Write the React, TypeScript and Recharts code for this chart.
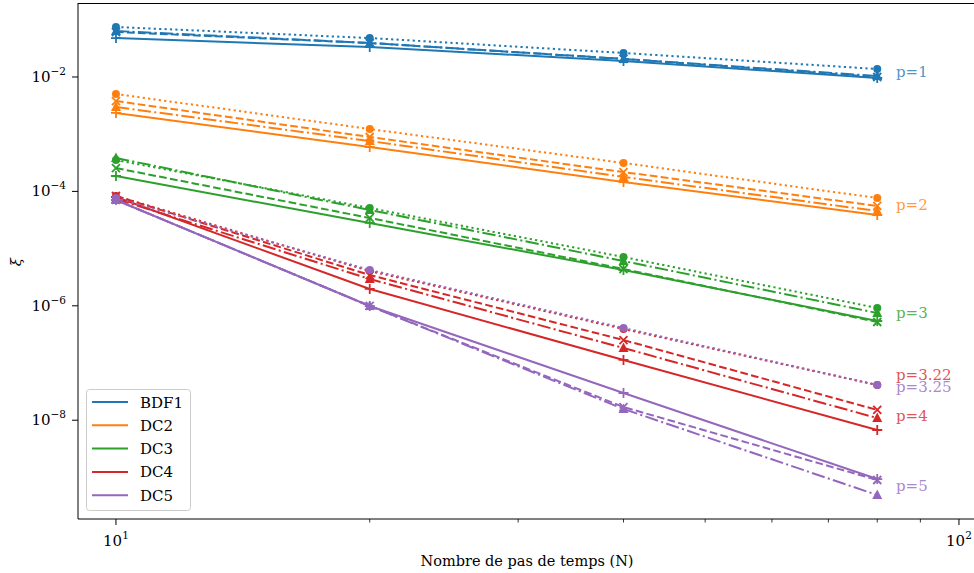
import { LineChart, Line, XAxis, YAxis } from 'recharts';

const N = [10, 20, 40, 80];

// erreur ξ pour chaque schéma, quatre variantes par schéma
const bdf1Solid = [4.8e-2, 3.34e-2, 1.91e-2, 9.6e-3];
const bdf1Dashed = [6.12e-2, 3.93e-2, 2.07e-2, 1.0e-2];
const bdf1DashDot = [6.37e-2, 3.93e-2, 2.07e-2, 1.04e-2];
const bdf1Dotted = [7.48e-2, 4.8e-2, 2.63e-2, 1.38e-2];

const dc2Solid = [2.35e-3, 5.97e-4, 1.46e-4, 3.86e-5];
const dc2Dashed = [3.8e-3, 8.93e-4, 2.18e-4, 5.56e-5];
const dc2DashDot = [2.99e-3, 7.6e-4, 1.79e-4, 4.54e-5];
const dc2Dotted = [5.04e-3, 1.23e-3, 3.14e-4, 7.67e-5];

const dc3Solid = [1.86e-4, 2.81e-5, 4.23e-6, 5.42e-7];
const dc3Dashed = [2.56e-4, 3.43e-5, 4.4e-6, 5.21e-7];
const dc3DashDot = [3.84e-4, 4.73e-5, 6.07e-6, 7.48e-7];
const dc3Dotted = [3.54e-4, 5.13e-5, 7.13e-6, 9.16e-7];

const dc4Solid = [7.98e-5, 1.97e-6, 1.13e-7, 6.74e-9];
const dc4Dashed = [8.31e-5, 3.45e-6, 2.52e-7, 1.51e-8];
const dc4DashDot = [7.36e-5, 2.94e-6, 1.83e-7, 1.09e-8];
const dc4Dotted = [8.31e-5, 4.06e-6, 3.93e-7, 4.12e-8];

const dc5Solid = [7.08e-5, 9.93e-7, 2.99e-8, 9.37e-10];
const dc5Dashed = [7.08e-5, 9.93e-7, 1.7e-8, 9.01e-10];
const dc5DashDot = [7.08e-5, 9.93e-7, 1.57e-8, 4.92e-10];
const dc5Dotted = [7.67e-5, 4.23e-6, 4.09e-7, 4.12e-8];

const methods = ['BDF1', 'DC2', 'DC3', 'DC4', 'DC5'];
const slopes = ['p=1', 'p=2', 'p=3', 'p=3.22', 'p=3.25', 'p=4', 'p=5'];
const xTicks = [10, 20, 30, 40, 50, 60, 70, 80, 90, 100];
const yTicks = [1e-8, 1e-6, 1e-4, 1e-2];

const COLORS = ['#1f77b4', '#ff7f0e', '#2ca02c', '#d62728', '#9467bd'];
const serif = { fontFamily: "'DejaVu Serif', 'Liberation Serif', serif" };

const STYLES = [
  { name: 'solid', dash: undefined, marker: '+' },
  { name: 'dashed', dash: '7.7 3.3', marker: 'x' },
  { name: 'dashdot', dash: '13.3 3.3 2.1 3.3', marker: '^' },
  { name: 'dotted', dash: '2.2 3.2', marker: 'o' },
];

const values = [
  [bdf1Solid, bdf1Dashed, bdf1DashDot, bdf1Dotted],
  [dc2Solid, dc2Dashed, dc2DashDot, dc2Dotted],
  [dc3Solid, dc3Dashed, dc3DashDot, dc3Dotted],
  [dc4Solid, dc4Dashed, dc4DashDot, dc4Dotted],
  [dc5Solid, dc5Dashed, dc5DashDot, dc5Dotted],
];

const series = values.flatMap((group, m) =>
  group.map((vals, s) => ({
    key: `${methods[m]}_${STYLES[s].name}`,
    vals,
    color: COLORS[m],
    dash: STYLES[s].dash,
    marker: STYLES[s].marker,
  }))
);

const rows = N.map((n, i) => {
  const r: Record<string, number> = { N: n };
  series.forEach((s) => {
    r[s.key] = s.vals[i];
  });
  return r;
});

function Marker({ cx, cy, kind, color }: any) {
  if (cx == null || cy == null) return null;
  if (kind === 'o') return <circle cx={cx} cy={cy} r={4} fill={color} />;
  if (kind === '^')
    return (
      <path
        d={`M${cx},${cy - 5.5} L${cx + 5},${cy + 4} L${cx - 5},${cy + 4} Z`}
        fill={color}
      />
    );
  const d = kind === 'x' ? 4 : 5;
  const path =
    kind === 'x'
      ? `M${cx - d},${cy - d} L${cx + d},${cy + d} M${cx - d},${cy + d} L${cx + d},${cy - d}`
      : `M${cx - d},${cy} L${cx + d},${cy} M${cx},${cy - d} L${cx},${cy + d}`;
  return <path d={path} stroke={color} strokeWidth={1.8} fill="none" />;
}

function XTick({ x, y, payload }: any) {
  const v = payload.value;
  const major = v === 10 || v === 100;
  return (
    <g>
      <line x1={x} x2={x} y1={y} y2={y + (major ? 6 : 3.5)} stroke="#000" strokeWidth={major ? 1 : 0.8} />
      {major && (
        <text x={x} y={y + 27} textAnchor="middle" style={serif} fontSize={15} fill="#000">
          10
          <tspan dy={-7} fontSize={10.5}>
            {Math.round(Math.log10(v))}
          </tspan>
        </text>
      )}
    </g>
  );
}

function YTick({ x, y, payload }: any) {
  const e = Math.round(-Math.log10(payload.value));
  return (
    <g>
      <line x1={x - 6} x2={x} y1={y} y2={y} stroke="#000" strokeWidth={1} />
      <text x={x - 12} y={y + 5} textAnchor="end" style={serif} fontSize={15} fill="#000">
        10
        <tspan dy={-7} fontSize={10.5}>
          −{e}
        </tspan>
      </text>
    </g>
  );
}

// position (pixels) des annotations de pente à droite des courbes
const slopeLabelPos = [
  { y: 77, c: 0 },
  { y: 210, c: 1 },
  { y: 318, c: 2 },
  { y: 380, c: 3 },
  { y: 392, c: 4 },
  { y: 421, c: 3 },
  { y: 491, c: 4 },
];

export default function App() {
  return (
    <div style={{ position: 'absolute', left: 0, top: 0, width: 974, height: 573, background: '#fff' }}>
      <LineChart width={974} height={573} data={rows} margin={{ top: 3, right: 0, bottom: 0, left: 0 }}>
        <XAxis
          dataKey="N"
          type="number"
          scale="log"
          domain={[9.015, 104.2]}
          allowDataOverflow
          ticks={xTicks}
          interval={0}
          tick={<XTick />}
          tickLine={false}
          tickSize={0}
          tickMargin={0}
          height={54}
          axisLine={{ stroke: '#000', strokeWidth: 1 }}
        />
        <YAxis
          type="number"
          scale="log"
          domain={[1.875e-10, 0.1966]}
          allowDataOverflow
          ticks={yTicks}
          interval={0}
          tick={<YTick />}
          tickLine={false}
          tickSize={0}
          tickMargin={0}
          width={78}
          axisLine={{ stroke: '#000', strokeWidth: 1 }}
        />
        {series.map((s) => (
          <Line
            key={s.key}
            dataKey={s.key}
            type="linear"
            stroke={s.color}
            strokeWidth={2}
            strokeDasharray={s.dash}
            isAnimationActive={false}
            activeDot={false}
            dot={(p: any) => (
              <Marker key={`${s.key}-${p.index}`} cx={p.cx} cy={p.cy} kind={s.marker} color={s.color} />
            )}
          />
        ))}
      </LineChart>
      <svg
        width={974}
        height={573}
        style={{ position: 'absolute', left: 0, top: 0, pointerEvents: 'none' }}
      >
        <line x1={78} x2={974} y1={3.5} y2={3.5} stroke="#000" strokeWidth={1} />
        {slopes.map((t, i) => (
          <text
            key={t}
            x={896}
            y={slopeLabelPos[i].y}
            style={serif}
            fontSize={15}
            fill={COLORS[slopeLabelPos[i].c]}
            fillOpacity={0.8}
          >
            {t}
          </text>
        ))}
        <text x={527} y={566} textAnchor="middle" style={serif} fontSize={14.5} fill="#000">
          Nombre de pas de temps (N)
        </text>
        <text
          x={21}
          y={262}
          transform="rotate(-90, 21, 262)"
          textAnchor="middle"
          style={serif}
          fontStyle="italic"
          fontSize={15}
          fill="#000"
        >
          ξ
        </text>
        <rect x={86.5} y={389.5} width={104} height={121} rx={3} fill="#fff" fillOpacity={0.8} stroke="#ccc" />
        {methods.map((m, i) => {
          const ry = 402 + i * 23.3;
          return (
            <g key={m}>
              <line x1={92} x2={128} y1={ry} y2={ry} stroke={COLORS[i]} strokeWidth={2} />
              <text x={140} y={ry + 5.5} style={serif} fontSize={15} fill="#000">
                {m}
              </text>
            </g>
          );
        })}
      </svg>
    </div>
  );
}
